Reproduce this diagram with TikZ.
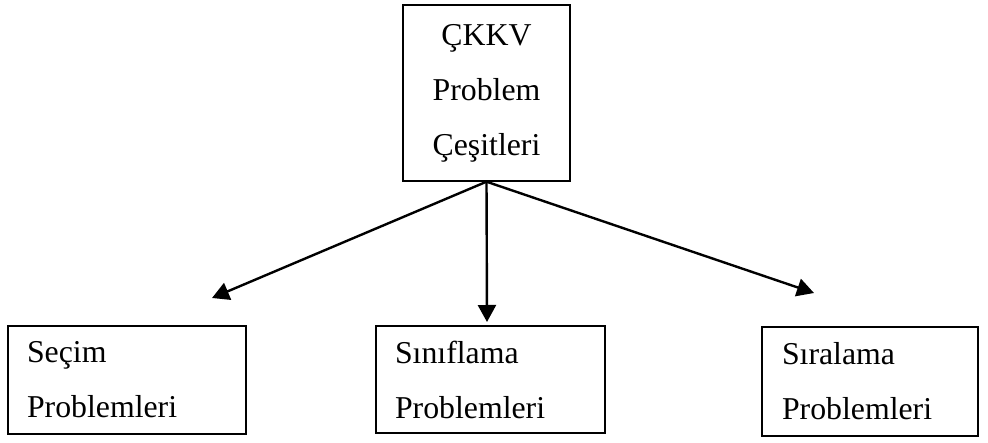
\documentclass[tikz,border=0pt]{standalone}
\usepackage{fontspec}
\setmainfont{Liberation Serif}
\usetikzlibrary{arrows.meta}

\begin{document}
\begin{tikzpicture}[x=0.5pt,y=-0.5pt,
		kutu/.style={draw,line width=0.7pt,inner sep=0pt,font=\fontsize{15.9}{27.5}\selectfont},
		altkutu/.style={kutu,align=left,inner xsep=9.5pt},
		ok/.style={line width=1.2pt,-{Triangle[length=8.5pt,width=9pt]}}]
		\useasboundingbox (0,0) rectangle (988,443);
		\node (ust) at (486.5,93)[kutu,minimum width=83.5pt,minimum height=88pt,align=center]{ÇKKV\\Problem\\Çeşitleri} ;
		\node (secim) at (127,380)[altkutu,minimum width=119pt,minimum height=54pt,text width=100pt]{Seçim\\Problemleri} ;
		\node (sinif) at (490.5,379.5)[altkutu,minimum width=114.5pt,minimum height=53.5pt,text width=95.5pt]{Sınıflama\\Problemleri} ;
		\node (sira) at (870,381.5)[altkutu,minimum width=108pt,minimum height=54.5pt,text width=88pt,inner xsep=10pt]{Sıralama\\Problemleri} ;
		\coordinate (ucsol) at (212,298) ;
		\coordinate (ucorta) at (487,322) ;
		\coordinate (ucsag) at (814,293) ;
		\draw[ok] (ust.south) -- (ucsol) ;
		\draw[ok] (ust.south) -- (ucorta) ;
		\draw[ok] (ust.south) -- (ucsag) ;
\end{tikzpicture}
\end{document}
